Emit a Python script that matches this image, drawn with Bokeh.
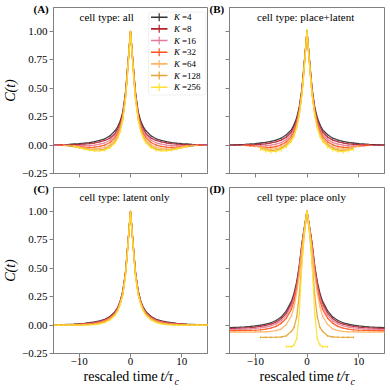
from bokeh.plotting import figure
from bokeh.layouts import column, row
from bokeh.models import Label, BoxAnnotation, FixedTicker, Range1d, ColumnDataSource, Title
from bokeh.embed import file_html
from bokeh.resources import INLINE

K_VALUES = [4, 8, 16, 32, 64, 128, 256]
COLORS = ["#333333", "#b2202c", "#e67a98", "#ff5219", "#ffb364", "#e2a434", "#ffe030"]

# one-sided lags (C(t) is symmetric in t)
T_POS = [0, 0.25, 0.5, 0.75, 1, 1.5, 2, 2.5, 3, 4, 5, 6, 7, 8, 9, 10, 11, 12, 13, 14, 15]

TITLES = ["cell type: all", "cell type: place+latent", "cell type: latent only", "cell type: place only"]
TAGS = ["(A)", "(B)", "(C)", "(D)"]

C_ALL = [
    [1, 0.86, 0.72, 0.58, 0.45, 0.29, 0.21, 0.16, 0.125, 0.08, 0.055, 0.04, 0.03, 0.022, 0.016, 0.012, 0.009, 0.006, 0.004, 0.003, 0.002],
    [1, 0.85, 0.71, 0.57, 0.44, 0.28, 0.19, 0.14, 0.1, 0.06, 0.04, 0.027, 0.018, 0.012, 0.008, 0.005, 0.003, 0.002, 0.001, 0.0, 0.0],
    [1, 0.85, 0.7, 0.56, 0.43, 0.26, 0.17, 0.12, 0.085, 0.042, 0.02, 0.008, 0.0, -0.004, -0.006, -0.006, -0.005, -0.003, -0.002, -0.001, 0.0],
    [1, 0.85, 0.7, 0.55, 0.42, 0.25, 0.155, 0.1, 0.065, 0.022, 0.0, -0.012, -0.018, -0.02, -0.018, -0.014, -0.01, -0.006, -0.003, -0.001],
    [1, 0.84, 0.69, 0.54, 0.41, 0.24, 0.14, 0.085, 0.045, 0.002, -0.02, -0.03, -0.034, -0.033, -0.028, -0.02, -0.013, -0.007, -0.003],
    [1, 0.84, 0.68, 0.53, 0.4, 0.23, 0.13, 0.07, 0.03, -0.013, -0.035, -0.042, -0.044, -0.04, -0.032, -0.022, -0.012, -0.005],
    [1, 0.84, 0.68, 0.53, 0.39, 0.22, 0.12, 0.06, 0.02, -0.023, -0.045, -0.052, -0.05, -0.045, -0.035, -0.022, -0.01],
]
C_PLACE_LATENT = [
    [1, 0.87, 0.74, 0.61, 0.49, 0.33, 0.24, 0.18, 0.135, 0.09, 0.06, 0.043, 0.032, 0.024, 0.018, 0.013, 0.009, 0.006, 0.004, 0.002, 0.001],
    [1, 0.86, 0.73, 0.6, 0.48, 0.32, 0.22, 0.16, 0.115, 0.07, 0.043, 0.028, 0.018, 0.011, 0.007, 0.004, 0.002, 0.001, 0.0, 0.0, 0.0],
    [1, 0.86, 0.72, 0.59, 0.47, 0.3, 0.2, 0.14, 0.095, 0.048, 0.022, 0.008, -0.001, -0.006, -0.007, -0.006, -0.004, -0.002],
    [1, 0.86, 0.72, 0.58, 0.46, 0.29, 0.19, 0.12, 0.075, 0.028, 0.002, -0.013, -0.02, -0.02, -0.016, -0.01, -0.005, -0.002],
    [1, 0.85, 0.71, 0.57, 0.45, 0.28, 0.17, 0.1, 0.06, 0.01, -0.018, -0.032, -0.036, -0.03, -0.02, -0.01],
    [1, 0.85, 0.7, 0.56, 0.44, 0.27, 0.16, 0.09, 0.045, -0.003, -0.03, -0.045, -0.048, -0.04, -0.03],
    [1, 0.85, 0.7, 0.56, 0.44, 0.26, 0.15, 0.08, 0.035, -0.013, -0.04, -0.055, -0.058, -0.05, -0.035],
]
C_LATENT = [
    [1, 0.86, 0.72, 0.58, 0.45, 0.3, 0.21, 0.155, 0.118, 0.075, 0.05, 0.036, 0.027, 0.02, 0.015, 0.011, 0.008, 0.006, 0.004, 0.003, 0.002],
    [1, 0.86, 0.72, 0.58, 0.45, 0.295, 0.205, 0.15, 0.113, 0.07, 0.046, 0.032, 0.023, 0.017, 0.012, 0.009, 0.006, 0.004, 0.003, 0.002, 0.001],
    [1, 0.86, 0.71, 0.57, 0.44, 0.29, 0.2, 0.145, 0.107, 0.065, 0.041, 0.028, 0.019, 0.013, 0.009, 0.006, 0.004, 0.003, 0.002, 0.001, 0.0],
    [1, 0.85, 0.71, 0.57, 0.44, 0.28, 0.195, 0.14, 0.1, 0.06, 0.036, 0.023, 0.015, 0.01, 0.007, 0.004, 0.003, 0.002, 0.001, 0.0, 0.0],
    [1, 0.85, 0.7, 0.56, 0.43, 0.275, 0.19, 0.133, 0.095, 0.055, 0.032, 0.019, 0.011, 0.007, 0.004, 0.002, 0.001, 0.0, 0.0, 0.0, 0.0],
    [1, 0.85, 0.7, 0.56, 0.43, 0.27, 0.185, 0.128, 0.09, 0.05, 0.027, 0.014, 0.008, 0.004, 0.002, 0.001, 0.0, 0.0, 0.0, 0.0, 0.0],
    [1, 0.85, 0.7, 0.55, 0.42, 0.265, 0.18, 0.123, 0.085, 0.045, 0.022, 0.01, 0.004, 0.001, 0.0, 0.0, 0.0, 0.0, 0.0, 0.0, 0.0],
]
C_PLACE = [
    [1, 0.93, 0.86, 0.79, 0.71, 0.52, 0.38, 0.28, 0.21, 0.125, 0.07, 0.04, 0.02, 0.008, 0.0, -0.007, -0.012, -0.016, -0.019, -0.021, -0.023],
    [1, 0.93, 0.85, 0.78, 0.7, 0.5, 0.36, 0.26, 0.19, 0.105, 0.055, 0.025, 0.008, -0.004, -0.012, -0.018, -0.022, -0.025, -0.027, -0.029, -0.03],
    [1, 0.93, 0.85, 0.77, 0.69, 0.49, 0.34, 0.24, 0.17, 0.085, 0.037, 0.01, -0.007, -0.018, -0.025, -0.03, -0.034, -0.036, -0.038, -0.039, -0.04],
    [1, 0.92, 0.84, 0.76, 0.68, 0.47, 0.32, 0.21, 0.14, 0.06, 0.015, -0.012, -0.027, -0.036, -0.042, -0.045, -0.047, -0.048, -0.049, -0.05, -0.05],
    [1, 0.92, 0.84, 0.75, 0.66, 0.44, 0.28, 0.16, 0.08, 0.005, -0.035, -0.05, -0.056, -0.059, -0.06, -0.061, -0.062, -0.062, -0.062, -0.062, -0.062],
    [1, 0.9, 0.8, 0.68, 0.55, 0.26, 0.07, -0.02, -0.055, -0.095, -0.105, -0.107, -0.108, -0.108, -0.108],
    [1, 0.92, 0.82, 0.7, 0.52, 0.1, -0.12, -0.175, -0.19, -0.19],
]
PANEL_DATA = [C_ALL, C_PLACE_LATENT, C_LATENT, C_PLACE]

# error-bar half lengths per K, per panel
ERR_ALL = [0.004, 0.004, 0.005, 0.006, 0.008, 0.01, 0.012]
ERR_PLACE_LATENT = [0.004, 0.005, 0.006, 0.008, 0.01, 0.014, 0.018]
ERR_LATENT = [0.003, 0.003, 0.004, 0.005, 0.006, 0.007, 0.008]
ERR_PLACE = [0.003, 0.003, 0.004, 0.005, 0.006, 0.008, 0.012]
PANEL_ERR = [ERR_ALL, ERR_PLACE_LATENT, ERR_LATENT, ERR_PLACE]

Y_TICKS = [-0.25, 0.0, 0.25, 0.5, 0.75, 1.0]
Y_TICK_LABELS = ["\u22120.25", "0.00", "0.25", "0.50", "0.75", "1.00"]
X_TICKS = [-10, 0, 10]
X_TICK_LABELS = ["\u221210", "0", "10"]

FONT = "Liberation Serif"
GRAY = "#808080"
XMIN, XMAX = -15, 15
YMIN, YMAX = -0.25, 1.208

# layout in pixels (page has no margin)
FW = [154, 155]
FH = [166, 166]
BORDER_L = [53, 20]
BORDER_R = [2, 3]
BORDER_T = [7, 7]
BORDER_B = [7, 35]
TITLE_DX = [26, 27.5]
TITLE_DY = [9, 9.7]


def sym(vals):
    n = len(vals)
    t = [-x for x in T_POS[1:n][::-1]] + T_POS[:n]
    v = list(vals[1:][::-1]) + list(vals)
    return t, v


def make_panel(i):
    r, c = divmod(i, 2)
    fw, fh = FW[c], FH[r]
    p = figure(frame_width=fw, frame_height=fh, output_backend="svg", toolbar_location=None,
               x_range=Range1d(XMIN, XMAX), y_range=Range1d(YMIN, YMAX),
               min_border_left=BORDER_L[c], min_border_right=BORDER_R[c],
               min_border_top=BORDER_T[r], min_border_bottom=BORDER_B[r])
    p.background_fill_color = "white"
    p.border_fill_color = "white"
    p.outline_line_color = GRAY
    p.outline_line_width = 1
    p.xgrid.visible = False
    p.ygrid.visible = False
    for ax, ticks, labels, show in ((p.xaxis, X_TICKS, X_TICK_LABELS, r == 1),
                                    (p.yaxis, Y_TICKS, Y_TICK_LABELS, c == 0)):
        ax.ticker = FixedTicker(ticks=ticks)
        ax.minor_tick_line_color = None
        ax.major_tick_in = 0
        ax.major_tick_out = 4
        ax.major_tick_line_color = GRAY
        ax.axis_line_color = GRAY
        ax.major_label_text_font = FONT
        ax.major_label_text_color = "black"
        if show:
            ax.major_label_overrides = {t: s for t, s in zip(ticks, labels)}
            ax.major_label_text_font_size = "11px"
        else:
            ax.major_label_overrides = {t: "" for t in ticks}
            ax.major_label_text_font_size = "0px"
    p.xaxis.major_label_standoff = 0
    p.yaxis.major_label_standoff = 2

    # panel tag, placed via the plot title (outside the frame)
    p.title.text = TAGS[i]
    p.title.align = "left"
    p.title.offset = -20
    p.title.vertical_align = "bottom"
    p.title.standoff = -14
    p.title.text_font = FONT
    p.title.text_font_size = "11px"
    p.title.text_font_style = "bold"
    p.title.text_color = "black"

    if c == 0:
        p.yaxis.axis_label = "C(t)"
        p.yaxis.axis_label_text_font = FONT
        p.yaxis.axis_label_text_font_size = "14px"
        p.yaxis.axis_label_text_font_style = "italic"
        p.yaxis.axis_label_text_color = "black"
        p.yaxis.axis_label_standoff = 1

    if r == 1:
        # spacer so that the x-label pieces sit below the tick labels
        p.xaxis.axis_label = " "
        p.xaxis.axis_label_text_font_size = "1px"
        p.xaxis.axis_label_standoff = 4
        for txt, fs, style, off, so in (("rescaled time", "14px", "normal", 30, -17.5),
                                        ("t/\u03c4", "14px", "italic", 107, -17.5),
                                        ("c", "10px", "italic", 121, -3.3)):
            p.add_layout(Title(text=txt, align="left", offset=off, vertical_align="bottom",
                               standoff=so, text_font=FONT, text_font_size=fs,
                               text_font_style=style, text_color="black"), "below")

    sx = fw / (XMAX - XMIN)
    sy = fh / (YMAX - YMIN)

    def px2x(px):
        return XMIN + px / sx

    def py2y(py):
        return YMAX - py / sy

    data = PANEL_DATA[i]
    errs = PANEL_ERR[i]
    for k, vals in enumerate(data):
        t, v = sym(vals)
        e = errs[k]
        src = ColumnDataSource(dict(t=t, v=v, lo=[y - e for y in v], hi=[y + e for y in v]))
        p.line("t", "v", source=src, line_color=COLORS[k], line_width=1.3, line_alpha=0.9)
        p.segment(x0="t", y0="lo", x1="t", y1="hi", source=src, line_color=COLORS[k],
                  line_width=1, line_alpha=0.9)

    # title inside frame, left aligned
    p.add_layout(Label(x=px2x(TITLE_DX[c]), y=py2y(TITLE_DY[r]), text=TITLES[i], text_font=FONT,
                       text_font_size="11px", text_align="left", text_baseline="middle",
                       text_color="black"))

    if i == 0:
        p.add_layout(BoxAnnotation(left=px2x(95), right=px2x(152.5), top=py2y(4.7), bottom=py2y(87.5),
                                   fill_color="white", fill_alpha=0.8, line_color="#d0d0d0",
                                   line_width=1, border_radius=3, level="underlay"))
        for k, kv in enumerate(K_VALUES):
            yy = py2y(9.7 + 11.67 * k)
            src = ColumnDataSource(dict(x0=[px2x(97.5)], x1=[px2x(114)], y=[yy],
                                        xm=[px2x(105.7)], y0=[py2y(5.7 + 11.67 * k)],
                                        y1=[py2y(13.7 + 11.67 * k)]))
            p.segment(x0="x0", y0="y", x1="x1", y1="y", source=src, line_color=COLORS[k],
                      line_width=1.6, line_alpha=1)
            p.segment(x0="xm", y0="y0", x1="xm", y1="y1", source=src, line_color=COLORS[k],
                      line_width=1.2, line_alpha=1)
            p.add_layout(Label(x=px2x(120.5), y=yy, text="K", text_font=FONT, text_font_size="9px",
                               text_font_style="italic", text_baseline="middle", text_color="black"))
            p.add_layout(Label(x=px2x(128.5), y=yy, text="=" + str(kv), text_font=FONT,
                               text_font_size="9px", text_baseline="middle", text_color="black"))
    return p


panels = [make_panel(i) for i in range(4)]
layout = column(row(panels[0], panels[1], spacing=0), row(panels[2], panels[3], spacing=0), spacing=0)
open("out.html", "w").write(file_html(layout, INLINE))
